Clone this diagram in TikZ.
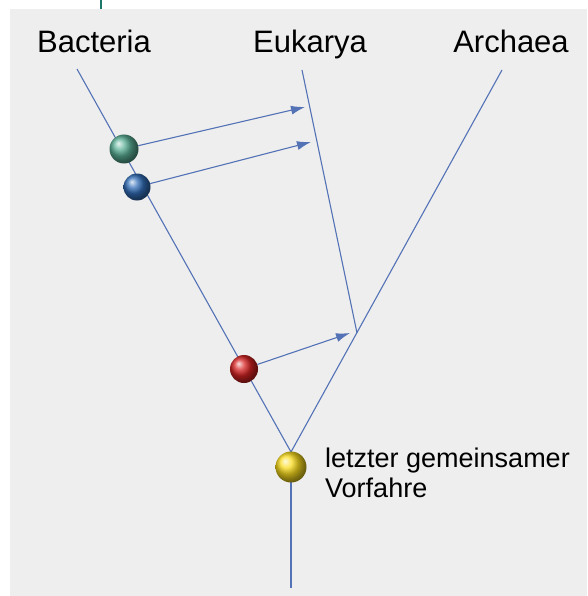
\documentclass[tikz,border=0pt]{standalone}
\usepackage{fontspec}
\setmainfont{Liberation Sans}
\usetikzlibrary{arrows.meta}

\definecolor{astblau}{RGB}{84,114,182}
\definecolor{grund}{RGB}{238,238,238}
\definecolor{kugelgruen}{RGB}{90,175,150}
\definecolor{kugelblau}{RGB}{50,110,185}
\definecolor{kugelrot}{RGB}{215,35,35}
\definecolor{kugelgelb}{RGB}{250,220,30}
\definecolor{strich}{RGB}{30,120,105}

\begin{document}
\begin{tikzpicture}[
        x=1pt, y=-1pt,
        ast/.style={draw=astblau, line width=1.1pt},
        transfer/.style={ast, -{Latex[length=14pt, width=9pt]}},
        kugel/.style={circle, inner sep=0pt, minimum size=#1},
        gruppe/.style={font=\fontsize{31}{36}\selectfont, anchor=base, inner sep=0pt}
    ]
        \path[use as bounding box] (0,0) rectangle (587,596);
        \fill[grund] (10,9) rectangle (587,596);
        \draw[strich, line width=1.2pt] (101,0) -- (101,9);

        % Stammbaum
        \coordinate (bac) at (77,69);
        \coordinate (euk) at (302,70);
        \coordinate (arc) at (502,70);
        \coordinate (wurzel) at (291,452);
        \coordinate (eukfuss) at (357,333);
        \coordinate (stammende) at (291,588);

        \draw[ast] (bac) -- (wurzel);
        \draw[ast] (arc) -- (wurzel);
        \draw[ast] (euk) -- (eukfuss);
        \draw[ast] (wurzel) -- (stammende);

        \node[gruppe] (lbac) at (94,53) {Bacteria};
        \node[gruppe] (leuk) at (310,53) {Eukarya};
        \node[gruppe] (larc) at (511,53) {Archaea};

        % Ereignisse
        \node[kugel=29pt, ball color=kugelgruen] (k1) at (124,149) {};
        \node[kugel=27pt, ball color=kugelblau] (k2) at (137,187) {};
        \node[kugel=28pt, ball color=kugelrot] (k3) at (244,369) {};
        \node[kugel=31pt, ball color=kugelgelb] (k4) at (291,467) {};

        \coordinate (z1) at (305,107);
        \coordinate (z2) at (311,142);
        \coordinate (z3) at (350,333);

        \draw[transfer] (k1) -- (z1);
        \draw[transfer] (k2) -- (z2);
        \draw[transfer] (k3) -- (z3);

        \node[font=\fontsize{27}{30}\selectfont, align=left, anchor=north west, inner sep=0pt] (lvorfahr) at (325,448) {letzter gemeinsamer\\Vorfahre};
    \end{tikzpicture}
\end{document}
